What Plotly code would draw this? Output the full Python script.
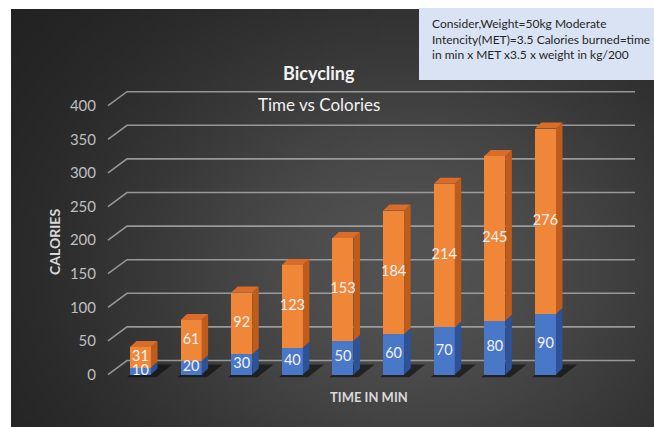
import base64
import struct
import zlib

import numpy as np
import plotly.graph_objects as go

# ---- data -------------------------------------------------------------
minutes = [10, 20, 30, 40, 50, 60, 70, 80, 90]
calories = [31, 61, 92, 123, 153, 184, 214, 245, 276]
y_ticks = [0, 50, 100, 150, 200, 250, 300, 350, 400]

title_text = "Bicycling"
subtitle_text = "Time vs Colories"
x_title = "TIME IN MIN"
y_title = "CALORIES"
note_lines = [
    "Consider,Weight=50kg Moderate",
    "Intencity(MET)=3.5 Calories burned=time",
    "in min x MET x3.5 x weight in kg/200",
]

# ---- geometry ---------------------------------------------------------
W, H = 654, 427
PX_PER_X = 50.625          # pixels per category step
PX_PER_Y = 0.672           # pixels per calorie
X0 = -2.775                # x value at the left edge of the figure
Y0 = -78.1                 # y value at the bottom edge of the figure
x_range = [X0, X0 + W / PX_PER_X]
y_range = [Y0, Y0 + H / PX_PER_Y]

BAR_W = 0.415
SIDE_DX = 6.5 / PX_PER_X   # depth of the bar side / top faces
SIDE_DY = 6.0 / PX_PER_Y
WALL_DX = 19 / PX_PER_X    # offset of the back wall
WALL_DY = 14 / PX_PER_Y
GRID_X0 = X0 + 108 / PX_PER_X
GRID_X1 = X0 + 635 / PX_PER_X

ORANGE = "#F08638"
ORANGE_SIDE = "#BF5C1B"
ORANGE_TOP = "#D86C28"
BLUE = "#4A78C9"
BLUE_SIDE = "#2D5297"
LABEL_FONT = dict(family="Lato", size=14.5, color="#F2F2F2")


def px(xp):
    return xp / W


def py(yp):
    return 1 - yp / H


# ---- background gradient image --------------------------------------
def png_data_uri(rgb):
    h, w, _ = rgb.shape
    raw = b"".join(b"\x00" + rgb[r].tobytes() for r in range(h))

    def chunk(tag, data):
        c = struct.pack(">I", len(data)) + tag + data
        return c + struct.pack(">I", zlib.crc32(tag + data) & 0xFFFFFFFF)

    png = (b"\x89PNG\r\n\x1a\n"
           + chunk(b"IHDR", struct.pack(">IIBBBBB", w, h, 8, 2, 0, 0, 0))
           + chunk(b"IDAT", zlib.compress(raw, 9))
           + chunk(b"IEND", b""))
    return "data:image/png;base64," + base64.b64encode(png).decode()


gw, gh = 200, 130
gx, gy = np.meshgrid(np.linspace(0, 1, gw), np.linspace(0, 1, gh))
d2 = ((gx - 0.62) / 0.55) ** 2 + ((gy - 0.62) / 0.70) ** 2
shade = 30 + 52 * np.exp(-1.2 * d2)
bg = np.clip(np.stack([shade, shade, shade], axis=-1), 0, 255).astype(np.uint8)
bg_uri = png_data_uri(bg)

# ---- figure ------------------------------------------------------------
idx = list(range(len(minutes)))
totals = [m + c for m, c in zip(minutes, calories)]

fig = go.Figure()

# front faces of the stacked columns
fig.add_trace(go.Bar(
    x=idx, y=minutes, width=BAR_W, marker=dict(color=BLUE, line=dict(width=0)),
    hoverinfo="skip", name="Time",
))
fig.add_trace(go.Bar(
    x=idx, y=calories, width=BAR_W, marker=dict(color=ORANGE, line=dict(width=0)),
    hoverinfo="skip", name="Calories",
))


def side_faces(bases, tops):
    xs, ys = [], []
    for i, (b, t) in enumerate(zip(bases, tops)):
        xr = i + BAR_W / 2
        xs += [xr, xr + SIDE_DX, xr + SIDE_DX, xr, xr, None]
        ys += [b, b + SIDE_DY, t + SIDE_DY, t, b, None]
    return xs, ys


def top_faces(tops):
    xs, ys = [], []
    for i, t in enumerate(tops):
        xl, xr = i - BAR_W / 2, i + BAR_W / 2
        xs += [xl, xl + SIDE_DX, xr + SIDE_DX, xr, xl, None]
        ys += [t, t + SIDE_DY, t + SIDE_DY, t, t, None]
    return xs, ys


for (xs, ys), col in [
    (side_faces([0] * len(minutes), minutes), BLUE_SIDE),
    (side_faces(minutes, totals), ORANGE_SIDE),
    (top_faces(totals), ORANGE_TOP),
]:
    fig.add_trace(go.Scatter(
        x=xs, y=ys, mode="lines", fill="toself", fillcolor=col,
        line=dict(width=0, color=col), hoverinfo="skip", showlegend=False,
    ))

# value labels centred on each segment
fig.add_trace(go.Scatter(
    x=idx, y=[m / 2 for m in minutes], mode="text",
    text=[str(v) for v in minutes], textposition="middle center",
    textfont=LABEL_FONT, hoverinfo="skip", showlegend=False,
))
fig.add_trace(go.Scatter(
    x=idx, y=[m + c / 2 for m, c in zip(minutes, calories)], mode="text",
    text=[str(v) for v in calories], textposition="middle center",
    textfont=LABEL_FONT, hoverinfo="skip", showlegend=False,
))

shapes = []
# gridlines on the floor edge and back wall
for v in y_ticks:
    shapes.append(dict(
        type="path", layer="below",
        path=(f"M {GRID_X0},{v} L {GRID_X0 + WALL_DX},{v + WALL_DY} "
              f"L {GRID_X1},{v + WALL_DY}"),
        line=dict(color="rgba(175,175,175,0.8)", width=1.6),
    ))
# floor shadows behind each column
for i in idx:
    xl, xr = i - BAR_W / 2, i + BAR_W / 2
    shapes.append(dict(
        type="path", layer="below",
        path=(f"M {xl - 0.06},-4 L {xr + 0.10},-4 L {xr + 0.42},15 "
              f"L {xl + 0.22},15 Z"),
        fillcolor="rgba(10,10,10,0.6)", line=dict(width=0),
    ))
# note box
shapes.append(dict(
    type="rect", xref="paper", yref="paper", layer="above",
    x0=px(419), x1=1, y0=py(80), y1=py(8),
    fillcolor="#DAE3F3", line=dict(width=0),
))

annotations = [
    dict(text=f"<b>{title_text}</b>", x=px(319), y=py(73), xref="paper", yref="paper",
         showarrow=False, xanchor="center", yanchor="middle",
         font=dict(family="Lato", size=18, color="#F2F2F2")),
    dict(text=subtitle_text, x=px(319), y=py(104), xref="paper", yref="paper",
         showarrow=False, xanchor="center", yanchor="middle",
         font=dict(family="Lato", size=17, color="#F2F2F2")),
    dict(text=f"<b>{x_title}</b>", x=px(369), y=py(397), xref="paper", yref="paper",
         showarrow=False, xanchor="center", yanchor="middle",
         font=dict(family="Lato", size=13, color="#D9D9D9")),
    dict(text=f"<b>{y_title}</b>", x=px(55), y=py(242), xref="paper", yref="paper",
         showarrow=False, xanchor="center", yanchor="middle", textangle=-90,
         font=dict(family="Lato", size=14, color="#D9D9D9")),
    dict(text="<br>".join(note_lines), x=px(430), y=py(14), xref="paper", yref="paper",
         showarrow=False, xanchor="left", yanchor="top", align="left",
         font=dict(family="Lato", size=12, color="#262626")),
]

fig.update_layout(
    width=W, height=H,
    margin=dict(l=0, r=0, t=0, b=0),
    paper_bgcolor="#FFFFFF",
    plot_bgcolor="rgba(0,0,0,0)",
    barmode="stack",
    bargap=0,
    showlegend=False,
    xaxis=dict(range=x_range, domain=[0, 1], visible=False, fixedrange=True),
    yaxis=dict(range=y_range, domain=[0, 1], anchor="free", position=px(96),
               tickvals=y_ticks, ticktext=[str(v) for v in y_ticks],
               ticks="", showgrid=False, zeroline=False, showline=False,
               tickfont=dict(family="Lato", size=15, color="#BFBFBF"),
               fixedrange=True),
    images=[dict(source=bg_uri, xref="paper", yref="paper",
                 x=px(11), y=py(9), sizex=1 - px(11), sizey=py(9),
                 xanchor="left", yanchor="top", sizing="stretch", layer="below")],
    shapes=shapes,
    annotations=annotations,
)

fig.write_html("out.html")
